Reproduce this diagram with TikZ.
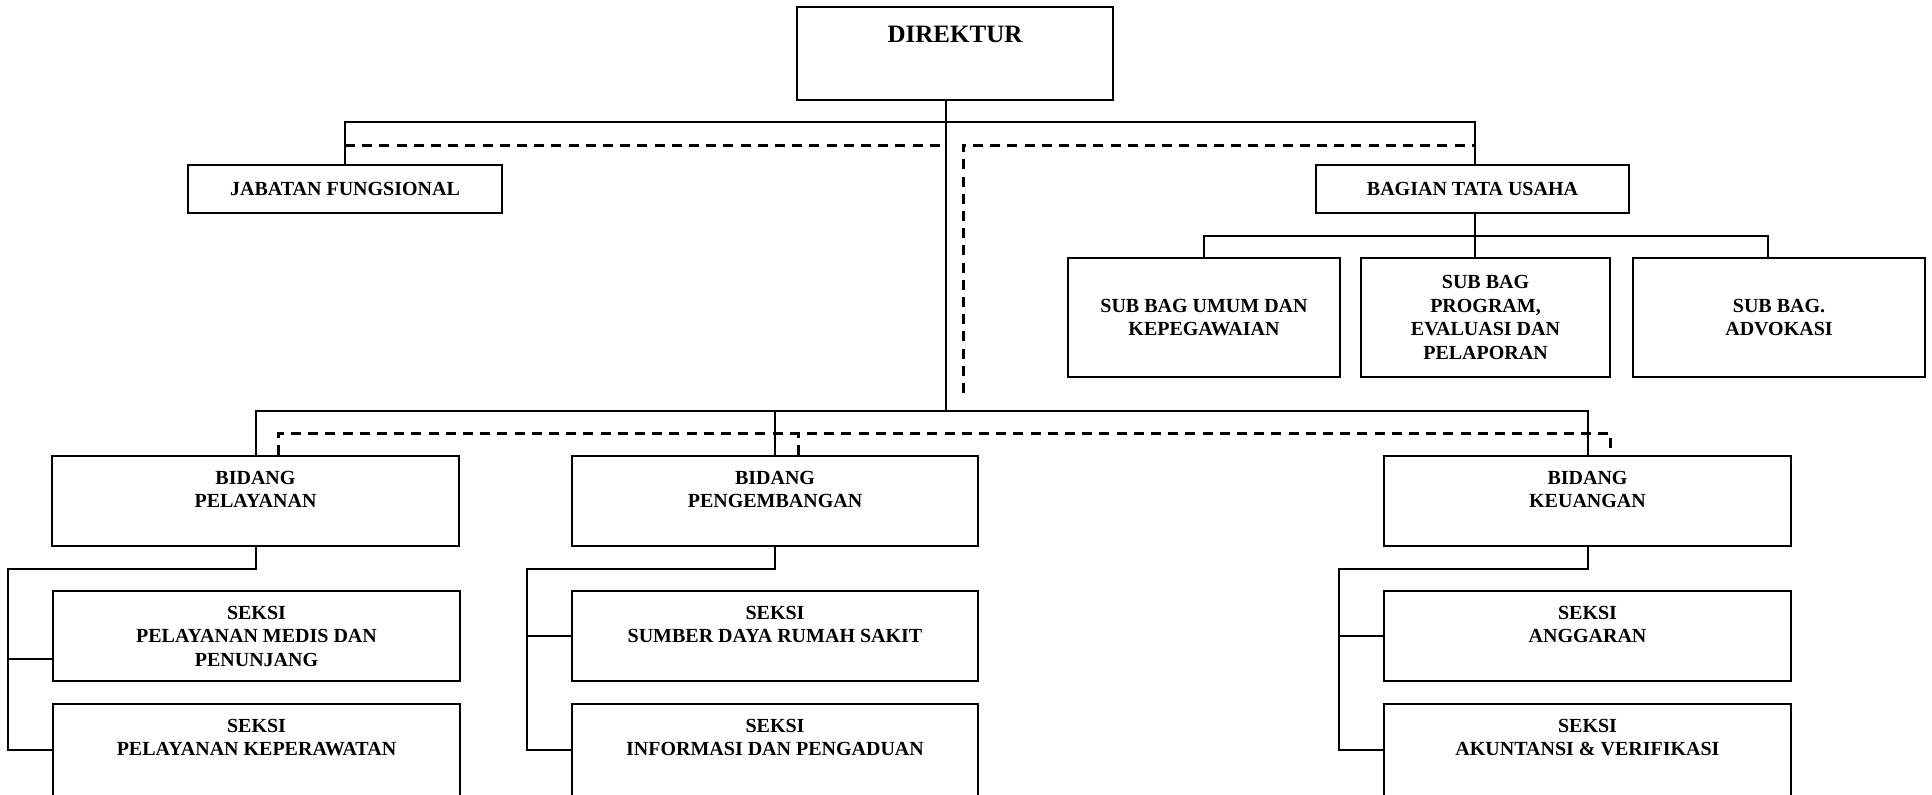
\documentclass[tikz,border=0pt]{standalone}
\usepackage{fontspec}
\setmainfont{Liberation Serif}
\begin{document}
\begin{tikzpicture}[x=0.5pt,y=-0.5pt]
\tikzset{
 ln/.style={line width=1pt},
 dsh/.style={line width=1.5pt, dash pattern=on 5pt off 3.6pt},
 bx/.style 2 args={draw, line width=1pt, rectangle, inner sep=1pt, minimum width=#1, minimum height=#2, align=center, font=\fontsize{10}{11.7}\selectfont\bfseries},
 lbl/.style={inner sep=0pt, align=center, anchor=north, font=\fontsize{10}{11.7}\selectfont\bfseries},
}
\clip (0,0) rectangle (1932,794);
% top
\node[bx={158pt}{46.5pt}] (dir) at (955,53.5) {};
\node[anchor=base, inner sep=0pt, font=\fontsize{12.5}{14}\selectfont\bfseries] (dirt) at (955,42) {DIREKTUR};
\node[bx={157pt}{24pt}] (jf) at (345,189) {JABATAN FUNGSIONAL};
\node[bx={156.5pt}{24pt}] (btu) at (1472.5,189) {BAGIAN TATA USAHA};
\node[bx={136pt}{59.5pt}] (sb1) at (1204,317.5) {SUB BAG UMUM DAN\\KEPEGAWAIAN};
\node[bx={124.5pt}{59.5pt}] (sb2) at (1485.5,317.5) {SUB BAG\\PROGRAM,\\EVALUASI DAN\\PELAPORAN};
\node[bx={146pt}{59.5pt}] (sb3) at (1779,317.5) {SUB BAG.\\ADVOKASI};
% bidang
\node[bx={203.5pt}{45pt}] (bp) at (255.5,501) {};
\node[lbl] (bpt) at ([yshift=-6.3pt]bp.north) {\strut BIDANG\\PELAYANAN};
\node[bx={203pt}{45pt}] (bpe) at (775,501) {};
\node[lbl] (bpet) at ([yshift=-6.3pt]bpe.north) {\strut BIDANG\\PENGEMBANGAN};
\node[bx={203.5pt}{45pt}] (bk) at (1587.5,501) {};
\node[lbl] (bkt) at ([yshift=-6.3pt]bk.north) {\strut BIDANG\\KEUANGAN};
% seksi
\node[bx={203.5pt}{45pt}] (s11) at (256.5,636) {};
\node[lbl] (s11t) at ([yshift=-6.3pt]s11.north) {\strut SEKSI\\PELAYANAN MEDIS DAN\\PENUNJANG};
\node[bx={203.5pt}{46pt}] (s12) at (256.5,750) {};
\node[lbl] (s12t) at ([yshift=-6.3pt]s12.north) {\strut SEKSI\\PELAYANAN KEPERAWATAN};
\node[bx={203pt}{45pt}] (s21) at (775,636) {};
\node[lbl] (s21t) at ([yshift=-6.3pt]s21.north) {\strut SEKSI\\SUMBER DAYA RUMAH SAKIT};
\node[bx={203pt}{46pt}] (s22) at (775,750) {};
\node[lbl] (s22t) at ([yshift=-6.3pt]s22.north) {\strut SEKSI\\INFORMASI DAN PENGADUAN};
\node[bx={203.5pt}{45pt}] (s31) at (1587.5,636) {};
\node[lbl] (s31t) at ([yshift=-6.3pt]s31.north) {\strut SEKSI\\ANGGARAN};
\node[bx={203.5pt}{46pt}] (s32) at (1587.5,750) {};
\node[lbl] (s32t) at ([yshift=-6.3pt]s32.north) {\strut SEKSI\\AKUNTANSI \& VERIFIKASI};
% junctions
\coordinate (top) at (946,122);
\coordinate (dl) at (946,145);
\coordinate (dc) at (963,145);
\coordinate (de) at (963,393);
\coordinate (l2) at (946,411);
\coordinate (dl2) at (946,433);
\coordinate (sbj) at (1475,236);
\coordinate (sb3j) at (1768,258);
\coordinate (lb) at (8,569);
\coordinate (mb) at (527,569);
\coordinate (rb) at (1339,569);
\coordinate (bpd) at ([xshift=11.5pt]bp.north);
\coordinate (bped) at ([xshift=11.5pt]bpe.north);
\coordinate (bkd) at ([xshift=11.5pt]bk.north);
\coordinate (b11) at ([yshift=-11.5pt]s11.west);
% connectors
\draw[ln] (jf.north) |- (top) -| (btu.north -| sbj);
\draw[ln] (dir.south -| top) -- (l2);
\draw[dsh] (jf.north |- dl) -- (dl);
\draw[dsh] (de) -- (dc) -- (dc -| sbj);
\draw[ln] (btu.south -| sbj) -- (sb2.north -| sbj);
\draw[ln] (sb1.north) |- (sbj) -| (sb3j);
\draw[ln] (bp.north) |- (l2) -| (bk.north);
\draw[ln] (bpe.north) -- (bpe.north |- l2);
\draw[dsh] (bpd) |- (dl2) -| (bkd);
\draw[dsh] (bped) -- (bped |- dl2);
\draw[ln] (bp.south) |- (lb) |- (s12.west);
\draw[ln] (lb |- b11) -- (b11);
\draw[ln] (bpe.south) |- (mb) |- (s22.west);
\draw[ln] (mb |- s21.west) -- (s21.west);
\draw[ln] (bk.south) |- (rb) |- (s32.west);
\draw[ln] (rb |- s31.west) -- (s31.west);
\end{tikzpicture}
\end{document}
